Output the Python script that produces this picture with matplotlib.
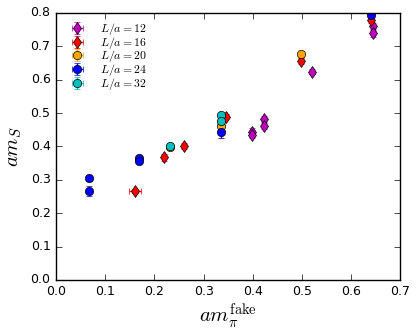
import numpy as np
import matplotlib
matplotlib.use('Agg')
import matplotlib.pyplot as plt

plt.style.use('classic')
plt.rcParams['mathtext.fontset'] = 'cm'
plt.rcParams['figure.facecolor'] = 'white'
plt.rcParams['savefig.facecolor'] = 'white'

# ── data ──────────────────────────────────────────────────────────────────────
labels  = ['$L/a=12$', '$L/a=16$', '$L/a=20$', '$L/a=24$', '$L/a=32$']
colors  = ['#BF00BF', '#FF0000', '#FFA500', '#0000FF', '#00BFBF']
markers = ['d', 'd', 'o', 'o', 'o']

x12  = [0.398, 0.398, 0.422, 0.422, 0.521, 0.645, 0.645]
y12  = [0.444, 0.434, 0.482, 0.461, 0.624, 0.761, 0.739]
ye12 = [0.010, 0.010, 0.010, 0.010, 0.008, 0.010, 0.010]
xe12 = [0.003, 0.003, 0.003, 0.003, 0.003, 0.003, 0.003]

x16  = [0.161, 0.219, 0.260, 0.346, 0.499, 0.641]
y16  = [0.266, 0.367, 0.401, 0.489, 0.656, 0.780]
ye16 = [0.005, 0.010, 0.010, 0.008, 0.010, 0.010]
xe16 = [0.012, 0.003, 0.003, 0.004, 0.003, 0.004]

x20  = [0.231, 0.335, 0.499]
y20  = [0.398, 0.461, 0.676]
ye20 = [0.006, 0.035, 0.008]
xe20 = [0.003, 0.003, 0.003]

x24  = [0.067, 0.067, 0.168, 0.168, 0.335, 0.640]
y24  = [0.304, 0.266, 0.364, 0.357, 0.444, 0.795]
ye24 = [0.008, 0.016, 0.006, 0.006, 0.018, 0.008]
xe24 = [0.002, 0.002, 0.002, 0.002, 0.002, 0.002]

x32  = [0.231, 0.335, 0.335]
y32  = [0.401, 0.494, 0.476]
ye32 = [0.005, 0.006, 0.006]
xe32 = [0.003, 0.003, 0.003]

xs  = [x12, x16, x20, x24, x32]
ys  = [y12, y16, y20, y24, y32]
xes = [xe12, xe16, xe20, xe24, xe32]
yes = [ye12, ye16, ye20, ye24, ye32]

# ── plot ──────────────────────────────────────────────────────────────────────
fig = plt.figure(figsize=(4.16, 3.32), dpi=100)
ax = fig.add_axes([0.135, 0.157, 0.827, 0.804])

for x, y, xe, ye, c, m, lab in zip(xs, ys, xes, yes, colors, markers, labels):
    ax.errorbar(x, y, xerr=xe, yerr=ye, fmt=m, color=c, ecolor=c,
                mec='k', mew=0.5, ms=6, capsize=2.5, elinewidth=1,
                label=lab)

ax.set_xlim(0.0, 0.7)
ax.set_ylim(0.0, 0.8)
ax.set_xticks(np.arange(0, 0.71, 0.1))
ax.set_yticks(np.arange(0, 0.81, 0.1))
ax.tick_params(labelsize=9)
ax.set_xlabel(r'$am_\pi^{\rm fake}$', fontsize=15, labelpad=2)
ax.set_ylabel(r'$am_S$', fontsize=15)

ax.legend(loc='upper left', bbox_to_anchor=(0.012, 1.0), numpoints=1,
          frameon=False, fontsize=8.5, handlelength=1.5, handletextpad=1.2,
          labelspacing=-0.2, borderaxespad=0.3)

plt.savefig('out.png', dpi=100)
